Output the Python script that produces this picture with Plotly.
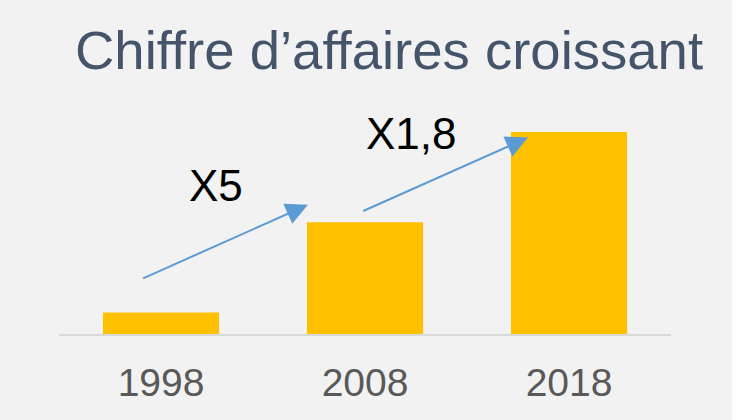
import plotly.graph_objects as go

# ---- data ----
years = ["1998", "2008", "2018"]
revenue = [1.0, 4.85, 8.7]          # relative revenue (1998 = 1)
growth_labels = ["X5", "X1,8"]
title_text = "Chiffre d\u2019affaires croissant"

BAR = "#FFC000"
ARROW = "#5B9BD5"
BG = "#F2F2F2"
FONT = "Arial, Liberation Sans, sans-serif"

fig = go.Figure()
fig.add_trace(go.Bar(x=years, y=revenue, marker=dict(color=BAR, line=dict(width=0)),
                     hoverinfo="skip"))

# growth arrows between bars (data coordinates; x as category index)
arrows = [
    dict(x0=-0.095, y0=2.43, x1=0.72, y1=5.59),
    dict(x0=0.984, y0=5.30, x1=1.799, y1=8.46),
]
for a in arrows:
    fig.add_annotation(x=a["x1"], y=a["y1"], ax=a["x0"], ay=a["y0"],
                       xref="x", yref="y", axref="x", ayref="y",
                       showarrow=True, arrowhead=2, arrowsize=2.2, arrowwidth=2,
                       arrowcolor=ARROW, text="")

label_pos = [(0.272, 6.40), (1.228, 8.64)]
for (lx, ly), t in zip(label_pos, growth_labels):
    fig.add_annotation(x=lx, y=ly, xref="x", yref="y", text=t, showarrow=False,
                       font=dict(family=FONT, size=44, color="#000000"),
                       xanchor="center", yanchor="middle")

# title
fig.add_annotation(x=0.539, y=1.21, xref="paper", yref="paper", text=title_text,
                   showarrow=False, xanchor="center", yanchor="middle",
                   font=dict(family=FONT, size=54.5, color="#44546A"))

# baseline
fig.add_shape(type="line", xref="paper", yref="y", x0=0, x1=1, y0=0, y1=0,
              line=dict(color="#D9D9D9", width=4), layer="above")
# white strip at right edge of the picture
fig.add_shape(type="rect", xref="paper", yref="paper", x0=1.0997, x1=1.2, y0=-0.5, y1=1.5,
              fillcolor="#FFFFFF", line=dict(width=0), layer="below")

fig.update_layout(
    width=754, height=420,
    margin=dict(l=59, r=83, t=100, b=84, autoexpand=False),
    paper_bgcolor=BG, plot_bgcolor=BG,
    bargap=0.431, showlegend=False,
    xaxis=dict(showgrid=False, zeroline=False, showline=False, automargin=False,
               ticks="outside", ticklen=12, tickcolor="rgba(0,0,0,0)",
               tickfont=dict(family=FONT, size=39, color="#595959"),
               fixedrange=True),
    yaxis=dict(range=[0, 10.06], visible=False, fixedrange=True, automargin=False),
)

fig.write_html("out.html", config={"displayModeBar": False},
               post_script="document.body.style.margin='0';document.body.style.overflow='hidden';")
